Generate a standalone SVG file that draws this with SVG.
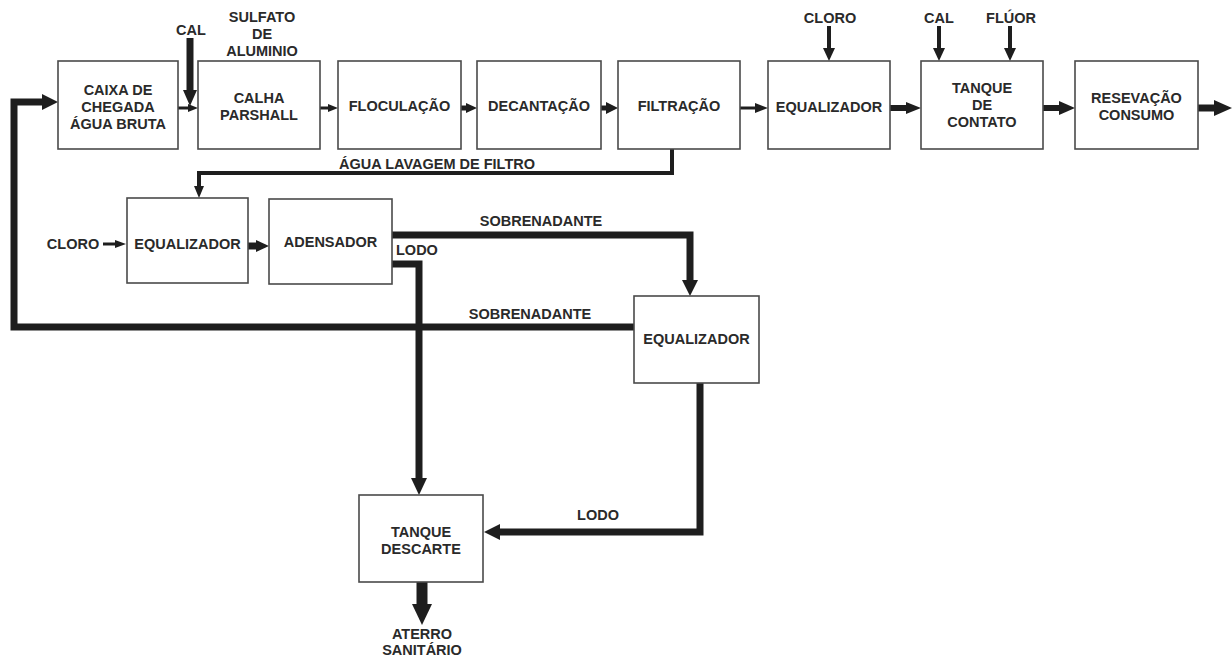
<svg xmlns="http://www.w3.org/2000/svg" width="1232" height="657" viewBox="0 0 1232 657">
<style>
.box{fill:#fff;stroke:#4a4a4a;stroke-width:1.6}
.t{font-family:"Liberation Sans",Arial,sans-serif;font-weight:bold;font-size:14.5px;fill:#2a2a2a;text-anchor:middle}
.ln{fill:none;stroke:#1e1e1e;stroke-linejoin:miter}
.hd{fill:#1e1e1e}
</style>
<rect width="1232" height="657" fill="#fff"/>
<g id="connectors">
  <!-- top inputs -->
  <line class="ln" x1="190" y1="38" x2="190" y2="92" stroke-width="7"/>
  <polygon class="hd" points="183,90 197,90 190,106"/>
  <line class="ln" x1="829" y1="26" x2="829" y2="50" stroke-width="4"/>
  <polygon class="hd" points="823,48 835,48 829,61"/>
  <line class="ln" x1="939" y1="26" x2="939" y2="50" stroke-width="4"/>
  <polygon class="hd" points="933,48 945,48 939,61"/>
  <line class="ln" x1="1010" y1="26" x2="1010" y2="50" stroke-width="4"/>
  <polygon class="hd" points="1004,48 1016,48 1010,61"/>
  <!-- top row flow -->
  <line class="ln" x1="178" y1="108" x2="190" y2="108" stroke-width="3"/>
  <polygon class="hd" points="188,104 198,108 188,112"/>
  <line class="ln" x1="320" y1="108" x2="330" y2="108" stroke-width="3"/>
  <polygon class="hd" points="328,104 338,108 328,112"/>
  <line class="ln" x1="461" y1="108" x2="468" y2="108" stroke-width="5"/>
  <polygon class="hd" points="466,103 477,108 466,113"/>
  <line class="ln" x1="601" y1="108" x2="608" y2="108" stroke-width="5"/>
  <polygon class="hd" points="606,102 618,108 606,114"/>
  <line class="ln" x1="740" y1="108" x2="757" y2="108" stroke-width="3"/>
  <polygon class="hd" points="755,103 768,108 755,113"/>
  <line class="ln" x1="890" y1="108" x2="908" y2="108" stroke-width="6"/>
  <polygon class="hd" points="906,102 921,108 906,114"/>
  <line class="ln" x1="1043" y1="108" x2="1061" y2="108" stroke-width="6"/>
  <polygon class="hd" points="1059,101 1075,108 1059,115"/>
  <line class="ln" x1="1198" y1="108" x2="1216" y2="108" stroke-width="7"/>
  <polygon class="hd" points="1214,100 1232,108 1214,116"/>
  <!-- agua lavagem -->
  <path class="ln" d="M672,149 V173 H199 V188" stroke-width="4"/>
  <polygon class="hd" points="194,186 204,186 199,198"/>
  <!-- cloro second row -->
  <line class="ln" x1="103" y1="244" x2="117" y2="244" stroke-width="3"/>
  <polygon class="hd" points="115,240 126,244 115,248"/>
  <line class="ln" x1="248" y1="246" x2="258" y2="246" stroke-width="7"/>
  <polygon class="hd" points="256,240 269,246 256,252"/>
  <!-- sobrenadante upper -->
  <path class="ln" d="M392,235 H690 V282" stroke-width="7"/>
  <polygon class="hd" points="682,280 698,280 690,296"/>
  <!-- lodo from adensador -->
  <path class="ln" d="M392,264 H419 V480" stroke-width="7"/>
  <polygon class="hd" points="411,478 427,478 419,495"/>
  <!-- sobrenadante lower (return) -->
  <path class="ln" d="M634,327 H14 V102 H44" stroke-width="7"/>
  <polygon class="hd" points="42,94 58,102 42,110"/>
  <!-- lodo from equalizador -->
  <path class="ln" d="M700,383 V532 H498" stroke-width="7"/>
  <polygon class="hd" points="500,524 484,532 500,540"/>
  <!-- to aterro -->
  <line class="ln" x1="422" y1="582" x2="422" y2="606" stroke-width="11"/>
  <polygon class="hd" points="412,604 432,604 422,625"/>
</g>
<g id="n-caixa"><rect class="box" x="58" y="61" width="120" height="88"/><text class="t" x="118" y="95">CAIXA DE</text><text class="t" x="118" y="112">CHEGADA</text><text class="t" x="118" y="129">ÁGUA BRUTA</text></g>
<g id="n-calha"><rect class="box" x="198" y="61" width="122" height="88"/><text class="t" x="259" y="103">CALHA</text><text class="t" x="259" y="120">PARSHALL</text></g>
<g id="n-floc"><rect class="box" x="338" y="61" width="123" height="88"/><text class="t" x="399.5" y="111">FLOCULAÇÃO</text></g>
<g id="n-decant"><rect class="box" x="477" y="61" width="124" height="88"/><text class="t" x="539" y="111">DECANTAÇÃO</text></g>
<g id="n-filtr"><rect class="box" x="618" y="61" width="122" height="88"/><text class="t" x="679" y="111">FILTRAÇÃO</text></g>
<g id="n-equal1"><rect class="box" x="768" y="61" width="122" height="88"/><text class="t" x="829" y="112">EQUALIZADOR</text></g>
<g id="n-tanque"><rect class="box" x="921" y="61" width="122" height="88"/><text class="t" x="982" y="93">TANQUE</text><text class="t" x="982" y="110">DE</text><text class="t" x="982" y="127">CONTATO</text></g>
<g id="n-reserv"><rect class="box" x="1075" y="61" width="123" height="88"/><text class="t" x="1136.5" y="103">RESEVAÇÃO</text><text class="t" x="1136.5" y="120">CONSUMO</text></g>
<g id="n-equal2"><rect class="box" x="127" y="198" width="121" height="85"/><text class="t" x="187.5" y="249">EQUALIZADOR</text></g>
<g id="n-adens"><rect class="box" x="269" y="199" width="123" height="85"/><text class="t" x="330.5" y="247">ADENSADOR</text></g>
<g id="n-equal3"><rect class="box" x="634" y="296" width="125" height="87"/><text class="t" x="696.5" y="344">EQUALIZADOR</text></g>
<g id="n-descarte"><rect class="box" x="359" y="495" width="124" height="87"/><text class="t" x="421" y="537">TANQUE</text><text class="t" x="421" y="554">DESCARTE</text></g>
<g id="labels">
  <text class="t" x="191" y="35">CAL</text>
  <text class="t" x="262" y="22">SULFATO</text>
  <text class="t" x="262" y="39">DE</text>
  <text class="t" x="262" y="56">ALUMINIO</text>
  <text class="t" x="830" y="23">CLORO</text>
  <text class="t" x="939" y="23">CAL</text>
  <text class="t" x="1011" y="23">FLÚOR</text>
  <text class="t" x="437" y="169">ÁGUA LAVAGEM DE FILTRO</text>
  <text class="t" x="73" y="249">CLORO</text>
  <text class="t" x="541" y="226">SOBRENADANTE</text>
  <text class="t" x="530" y="319">SOBRENADANTE</text>
  <text class="t" x="396" y="255" style="text-anchor:start">LODO</text>
  <text class="t" x="598" y="520">LODO</text>
  <text class="t" x="422" y="639">ATERRO</text>
  <text class="t" x="422" y="655">SANITÁRIO</text>
</g>
</svg>
